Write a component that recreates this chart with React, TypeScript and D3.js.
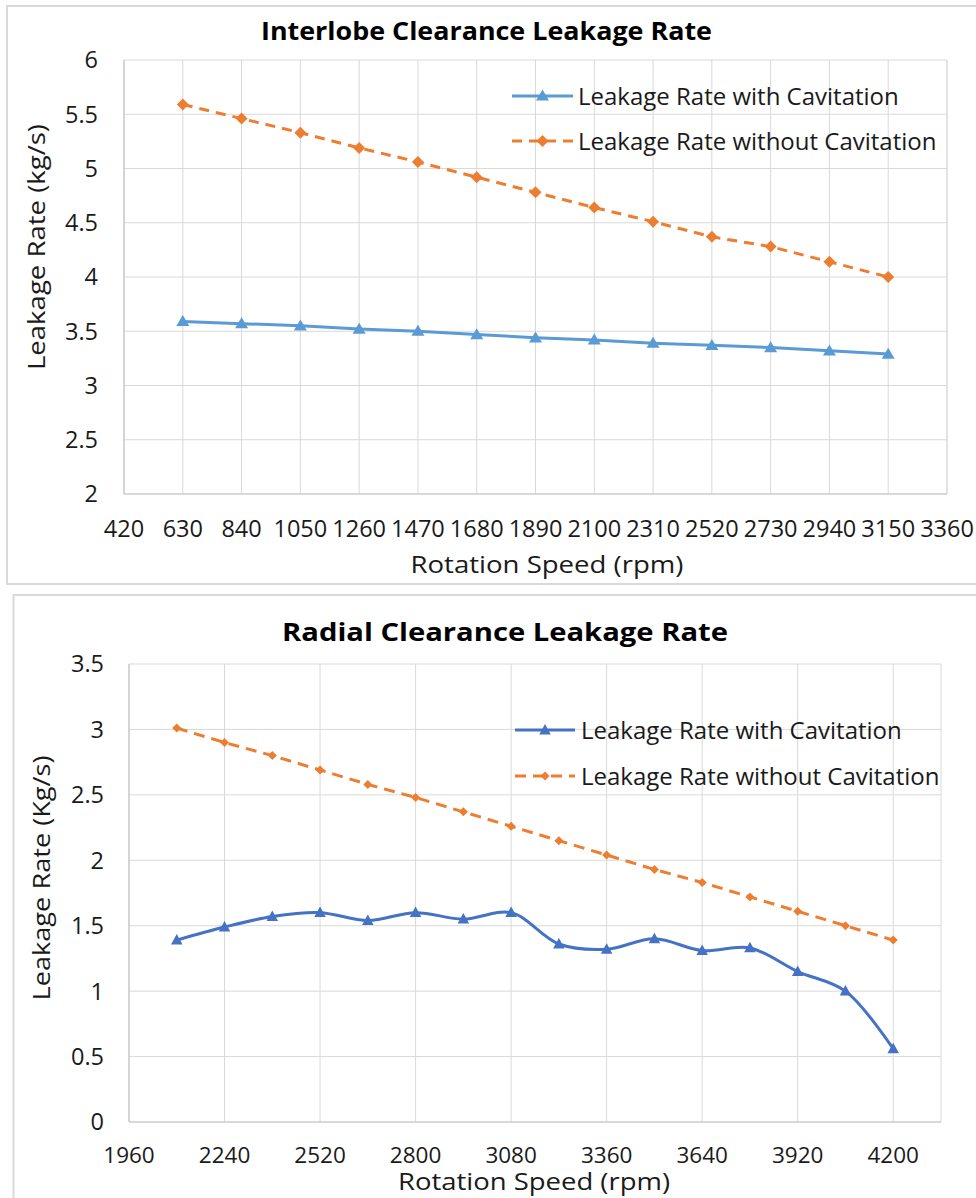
import React from "react";
import * as d3 from "d3";

// ---------- Data: Interlobe Clearance ----------
const topSpeeds = [630, 840, 1050, 1260, 1470, 1680, 1890, 2100, 2310, 2520, 2730, 2940, 3150];
const topWithCav = [3.59, 3.57, 3.55, 3.52, 3.5, 3.47, 3.44, 3.42, 3.39, 3.37, 3.35, 3.32, 3.29];
const topWithoutCav = [5.59, 5.46, 5.33, 5.19, 5.06, 4.92, 4.78, 4.64, 4.51, 4.37, 4.28, 4.14, 4.0];
const topXTicks = [420, 630, 840, 1050, 1260, 1470, 1680, 1890, 2100, 2310, 2520, 2730, 2940, 3150, 3360];
const topYTicks = [2, 2.5, 3, 3.5, 4, 4.5, 5, 5.5, 6];

// ---------- Data: Radial Clearance ----------
const botSpeeds = [2100, 2240, 2380, 2520, 2660, 2800, 2940, 3080, 3220, 3360, 3500, 3640, 3780, 3920, 4060, 4200];
const botWithCav = [1.39, 1.49, 1.57, 1.6, 1.54, 1.6, 1.55, 1.6, 1.36, 1.32, 1.4, 1.31, 1.33, 1.15, 1.0, 0.56];
const botWithoutCav = [3.01, 2.9, 2.8, 2.69, 2.58, 2.48, 2.37, 2.26, 2.15, 2.04, 1.93, 1.83, 1.72, 1.61, 1.5, 1.39];
const botXTicks = [1960, 2240, 2520, 2800, 3080, 3360, 3640, 3920, 4200];
const botYTicks = [0, 0.5, 1, 1.5, 2, 2.5, 3, 3.5];

const FONT = "'Open Sans', 'Noto Sans', sans-serif";
const GRID = "#d9d9d9";

type Pt = [number, number];

function trianglePath(w: number, h: number) {
  return `M0,${-h * 0.58}L${w / 2},${h * 0.42}L${-w / 2},${h * 0.42}Z`;
}
function diamondPath(r: number) {
  return `M0,${-r}L${r},0L0,${r}L${-r},0Z`;
}

interface ChartProps {
  title: string;
  titleX: number;
  titleY: number;
  titleLen: number;
  xs: number[];
  withCav: number[];
  withoutCav: number[];
  xTicks: number[];
  yTicks: number[];
  xDomain: [number, number];
  yDomain: [number, number];
  left: number;
  right: number;
  top: number;
  bottom: number;
  yLabel: string;
  yLabelX: number;
  yLabelY: number;
  yLabelLen: number;
  xLabelX: number;
  xLabelY: number;
  xLabelLen: number;
  xLabelSize: number;
  xTickY: number;
  xTickSize: number;
  yTickRight: number;
  blue: string;
  smooth: boolean;
  tri: { w: number; h: number };
  dia: number;
  dash: string;
  legend: { lx1: number; lx2: number; tx: number; y1: number; y2: number };
}

function Chart(p: ChartProps) {
  const x = d3.scaleLinear().domain(p.xDomain).range([p.left, p.right]);
  const y = d3.scaleLinear().domain(p.yDomain).range([p.bottom, p.top]);
  const withPts: Pt[] = p.xs.map((s, i) => [x(s), y(p.withCav[i])]);
  const withoutPts: Pt[] = p.xs.map((s, i) => [x(s), y(p.withoutCav[i])]);
  const lineBlue = d3.line<Pt>().curve(p.smooth ? d3.curveCatmullRom.alpha(0.5) : d3.curveLinear);
  const lineOrange = d3.line<Pt>();
  const tri = trianglePath(p.tri.w, p.tri.h);
  const dia = diamondPath(p.dia);
  const L = p.legend;
  return (
    <g>
      {/* grid */}
      {p.yTicks.map((t) => (
        <line key={"gy" + t} x1={p.left} x2={p.right} y1={y(t)} y2={y(t)} stroke={GRID} strokeWidth={1} />
      ))}
      {p.xTicks.map((t) => (
        <line key={"gx" + t} x1={x(t)} x2={x(t)} y1={p.top} y2={p.bottom} stroke={GRID} strokeWidth={1} />
      ))}
      <line x1={p.right} x2={p.right} y1={p.top} y2={p.bottom} stroke={GRID} strokeWidth={1} />
      <line x1={p.left} x2={p.left} y1={p.top} y2={p.bottom} stroke="#c6c6c6" strokeWidth={1.2} />
      <line x1={p.left} x2={p.right} y1={p.bottom} y2={p.bottom} stroke="#c6c6c6" strokeWidth={1.2} />
      {/* tick labels */}
      {p.yTicks.map((t) => (
        <text key={"ty" + t} x={p.yTickRight} y={y(t)} dy="0.36em" textAnchor="end" fontSize={23.5} fontFamily={FONT} fill="#1a1a1a">
          {String(t)}
        </text>
      ))}
      {p.xTicks.map((t) => (
        <text key={"tx" + t} x={x(t)} y={p.xTickY} dy="0.36em" textAnchor="middle" fontSize={p.xTickSize} fontFamily={FONT} fill="#1a1a1a">
          {String(t)}
        </text>
      ))}
      {/* axis titles */}
      <text x={p.xLabelX} y={p.xLabelY} dy="0.36em" textAnchor="middle" fontSize={p.xLabelSize} fontFamily={FONT} fill="#1a1a1a" textLength={p.xLabelLen} lengthAdjust="spacingAndGlyphs">
        Rotation Speed (rpm)
      </text>
      <text transform={`translate(${p.yLabelX},${p.yLabelY}) rotate(-90)`} dy="0.36em" textAnchor="middle" fontSize={24.5} fontFamily={FONT} fill="#1a1a1a" textLength={p.yLabelLen} lengthAdjust="spacingAndGlyphs">
        {p.yLabel}
      </text>
      {/* title */}
      <text x={p.titleX} y={p.titleY} dy="0.36em" textAnchor="middle" fontSize={25.5} fontWeight="bold" fontFamily={FONT} fill="#000" textLength={p.titleLen} lengthAdjust="spacingAndGlyphs">
        {p.title}
      </text>
      {/* series */}
      <path d={lineOrange(withoutPts) || ""} fill="none" stroke="#ed7d31" strokeWidth={3} strokeDasharray={p.dash} />
      {withoutPts.map((pt, i) => (
        <path key={"d" + i} d={dia} transform={`translate(${pt[0]},${pt[1]})`} fill="#ed7d31" />
      ))}
      <path d={lineBlue(withPts) || ""} fill="none" stroke={p.blue} strokeWidth={3} />
      {withPts.map((pt, i) => (
        <path key={"t" + i} d={tri} transform={`translate(${pt[0]},${pt[1]})`} fill={p.blue} />
      ))}
      {/* legend */}
      <line x1={L.lx1} x2={L.lx2} y1={L.y1} y2={L.y1} stroke={p.blue} strokeWidth={3} />
      <path d={tri} transform={`translate(${(L.lx1 + L.lx2) / 2},${L.y1})`} fill={p.blue} />
      <text x={L.tx} y={L.y1} dy="0.36em" fontSize={24} fontFamily={FONT} fill="#1a1a1a">
        Leakage Rate with Cavitation
      </text>
      <line x1={L.lx1} x2={L.lx2} y1={L.y2} y2={L.y2} stroke="#ed7d31" strokeWidth={3} strokeDasharray={p.dash} />
      <path d={dia} transform={`translate(${(L.lx1 + L.lx2) / 2},${L.y2})`} fill="#ed7d31" />
      <text x={L.tx} y={L.y2} dy="0.36em" fontSize={24} fontFamily={FONT} fill="#1a1a1a">
        Leakage Rate without Cavitation
      </text>
    </g>
  );
}

export default function App() {
  return (
    <svg width={976} height={1198} style={{ position: "absolute", left: 0, top: 0, background: "#fff" }}>
      <rect x={0} y={0} width={976} height={1198} fill="#fff" />
      {/* frames */}
      <rect x={7} y={6} width={1000} height={578} fill="none" stroke={GRID} strokeWidth={2} />
      <rect x={13.5} y={595} width={1000} height={700} fill="none" stroke={GRID} strokeWidth={2} />
      <Chart
        title="Interlobe Clearance Leakage Rate"
        titleX={486.5}
        titleY={31}
        titleLen={451}
        xs={topSpeeds}
        withCav={topWithCav}
        withoutCav={topWithoutCav}
        xTicks={topXTicks}
        yTicks={topYTicks}
        xDomain={[420, 3360]}
        yDomain={[2, 6]}
        left={124}
        right={947}
        top={60}
        bottom={494}
        yLabel="Leakage Rate (kg/s)"
        yLabelX={36}
        yLabelY={247}
        yLabelLen={246}
        xLabelX={547}
        xLabelY={564}
        xLabelLen={273}
        xLabelSize={24.5}
        xTickY={529}
        xTickSize={23.5}
        yTickRight={98}
        blue="#5b9bd5"
        smooth={false}
        tri={{ w: 13, h: 11 }}
        dia={6}
        dash="10 7"
        legend={{ lx1: 512, lx2: 573, tx: 578, y1: 96, y2: 141 }}
      />
      <Chart
        title="Radial Clearance Leakage Rate"
        titleX={505}
        titleY={632}
        titleLen={446}
        xs={botSpeeds}
        withCav={botWithCav}
        withoutCav={botWithoutCav}
        xTicks={botXTicks}
        yTicks={botYTicks}
        xDomain={[1960, 4340]}
        yDomain={[0, 3.5]}
        left={129}
        right={941}
        top={664}
        bottom={1122}
        yLabel="Leakage Rate (Kg/s)"
        yLabelX={41}
        yLabelY={878}
        yLabelLen={245}
        xLabelX={534}
        xLabelY={1182}
        xLabelLen={272}
        xLabelSize={23}
        xTickY={1155}
        xTickSize={22.5}
        yTickRight={104}
        blue="#4472c4"
        smooth={true}
        tri={{ w: 11.5, h: 10.5 }}
        dia={4.5}
        dash="11 7"
        legend={{ lx1: 515, lx2: 575, tx: 581, y1: 730, y2: 776 }}
      />
    </svg>
  );
}
